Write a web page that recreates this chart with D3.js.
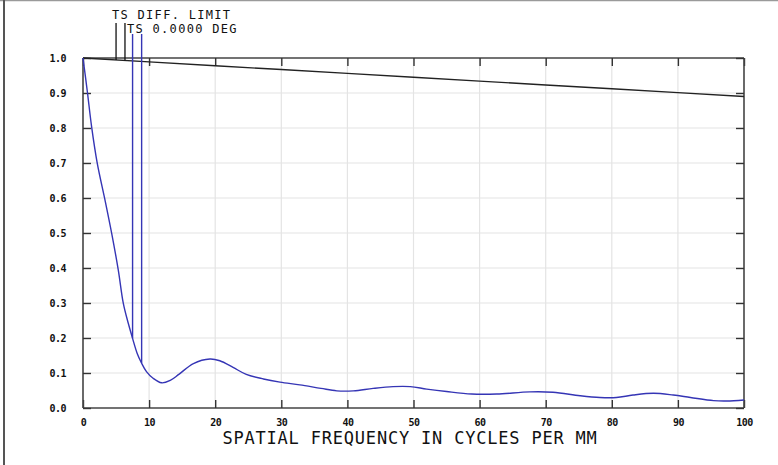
<!DOCTYPE html>
<html><head><meta charset="utf-8">
<script src="https://cdn.jsdelivr.net/npm/d3@7"></script>
<style>
html,body{margin:0;padding:0;background:#fff;}
svg{display:block;}
</style></head>
<body>
<svg id="chart" width="778" height="465"></svg>
<script>
// ---- data ----
const xTicks = [0,10,20,30,40,50,60,70,80,90,100];
const yTicks = [0,0.1,0.2,0.3,0.4,0.5,0.6,0.7,0.8,0.9,1.0];
const yTickLabels = ["0.0","0.1","0.2","0.3","0.4","0.5","0.6","0.7","0.8","0.9","1.0"];
const xTickLabels = ["0","10","20","30","40","50","60","70","80","90","100"];
const diffFreq = [0,10,20,30,40,50,60,70,80,90,100];
const diffMTF  = [1.0,0.989,0.978,0.967,0.956,0.945,0.934,0.923,0.912,0.901,0.890];
const fieldFreq = [0,0.65,1.3,2.16,3.33,4.34,5.34,6.1,6.85,7.5,8.2,8.87,9.6,10.6,11.9,13.2,14.5,16.7,19.2,20.7,22.7,24.7,27.3,29.8,32.8,36,38.4,40.9,43.9,46.9,49.5,52,55,58.8,62.6,67.6,71.1,75.2,78.2,80.7,83.2,86.3,89.3,91.9,95.4,97.4,100];
const fieldMTF  = [1.0,0.905,0.804,0.699,0.594,0.499,0.394,0.299,0.242,0.199,0.156,0.128,0.104,0.085,0.072,0.079,0.096,0.127,0.14,0.135,0.116,0.096,0.083,0.074,0.066,0.056,0.049,0.049,0.056,0.061,0.061,0.054,0.047,0.04,0.04,0.046,0.045,0.035,0.030,0.030,0.037,0.042,0.037,0.030,0.021,0.020,0.023];
const legendLines = ["TS DIFF. LIMIT","TS 0.0000 DEG"];
const leaderFreq = {diff:[5.0,6.35], field:[7.5,8.87]};
const xTitle = "SPATIAL FREQUENCY IN CYCLES PER MM";

// ---- layout ----
const svg = d3.select("#chart");
const L=83, R=744, T=58, B=408;
const x = d3.scaleLinear().domain([0,100]).range([L,R]);
const y = d3.scaleLinear().domain([0,1]).range([B,T]);
const mono = "'DejaVu Sans Mono', 'Liberation Mono', monospace";

// page border (top and left)
svg.append("line").attr("x1",0).attr("x2",778).attr("y1",0.5).attr("y2",0.5).attr("stroke","#9a9a9a").attr("stroke-width",1.5);
svg.append("line").attr("x1",4).attr("x2",4).attr("y1",0).attr("y2",465).attr("stroke","#555").attr("stroke-width",2);

// grid
const g = svg.append("g");
g.selectAll(".gx").data(xTicks.slice(1,-1)).join("line")
  .attr("x1",d=>x(d)).attr("x2",d=>x(d)).attr("y1",T).attr("y2",B)
  .attr("stroke","#e4e4e4").attr("stroke-width",1.2);
g.selectAll(".gy").data(yTicks.slice(1,-1)).join("line")
  .attr("x1",L).attr("x2",R).attr("y1",d=>y(d)).attr("y2",d=>y(d))
  .attr("stroke","#e4e4e4").attr("stroke-width",1.2);

// axes with inward ticks
const tk = 8;
const axB = d3.axisBottom(x).tickValues(xTicks).tickSize(-tk).tickFormat((d,i)=>xTickLabels[i]).tickPadding(tk+3);
const axT = d3.axisTop(x).tickValues(xTicks).tickSize(-tk).tickFormat("");
const axL = d3.axisLeft(y).tickValues(yTicks).tickSize(-tk).tickFormat((d,i)=>yTickLabels[i]).tickPadding(tk+9);
const axR = d3.axisRight(y).tickValues(yTicks).tickSize(-tk).tickFormat("");
function style(sel){
  sel.selectAll("path").attr("stroke","#444").attr("stroke-width",1.6);
  sel.selectAll(".tick line").attr("stroke","#333").attr("stroke-width",1.4);
  sel.selectAll("text").attr("font-family",mono).attr("font-size",10).attr("font-weight","bold").attr("fill","#111").attr("letter-spacing",-0.5);
}
svg.append("g").attr("transform",`translate(0,${B})`).call(axB).call(style).selectAll(".domain").attr("d",`M${L},0H${R}`);
svg.append("g").attr("transform",`translate(0,${T})`).call(axT).call(style).selectAll(".domain").attr("d",`M${L},0H${R}`);
svg.append("g").attr("transform",`translate(${L},0)`).call(axL).call(style).selectAll(".domain").attr("d",`M0,${T}V${B}`);
svg.append("g").attr("transform",`translate(${R},0)`).call(axR).call(style).selectAll(".domain").attr("d",`M0,${T}V${B}`);

// curves
const line = d3.line().x(d=>x(d[0])).y(d=>y(d[1]));
const diffData = diffFreq.map((f,i)=>[f,diffMTF[i]]);
const fieldData = fieldFreq.map((f,i)=>[f,fieldMTF[i]]);
svg.append("path").attr("d",line(diffData)).attr("fill","none").attr("stroke","#222").attr("stroke-width",1.4);
svg.append("path").attr("d",d3.line().x(d=>x(d[0])).y(d=>y(d[1])).curve(d3.curveCatmullRom.alpha(0.5))(fieldData))
  .attr("fill","none").attr("stroke","#3535b5").attr("stroke-width",1.4);

// leader lines
function interp(data,f){
  const xs=data.map(d=>d[0]), ys=data.map(d=>d[1]);
  return d3.scaleLinear().domain(xs).range(ys)(f);
}
leaderFreq.diff.forEach(f=>{
  svg.append("line").attr("x1",x(f)).attr("x2",x(f)).attr("y1",23).attr("y2",y(interp(diffData,f)))
    .attr("stroke","#111").attr("stroke-width",1.3);
});
leaderFreq.field.forEach(f=>{
  svg.append("line").attr("x1",x(f)).attr("x2",x(f)).attr("y1",34).attr("y2",y(interp(fieldData,f)))
    .attr("stroke","#3535b5").attr("stroke-width",1.4);
});

// legend text
svg.append("text").attr("x",112).attr("y",18.5).text(legendLines[0])
  .attr("font-family",mono).attr("font-size",12).attr("letter-spacing",1.3).attr("fill","#111");
svg.append("text").attr("x",127).attr("y",32.5).text(legendLines[1])
  .attr("font-family",mono).attr("font-size",12).attr("letter-spacing",1.3).attr("fill","#111");

// x title
svg.append("text").attr("x",410).attr("y",444).attr("text-anchor","middle").text(xTitle)
  .attr("font-family",mono).attr("font-size",17).attr("letter-spacing",0.8).attr("fill","#111");
</script>
</body></html>
